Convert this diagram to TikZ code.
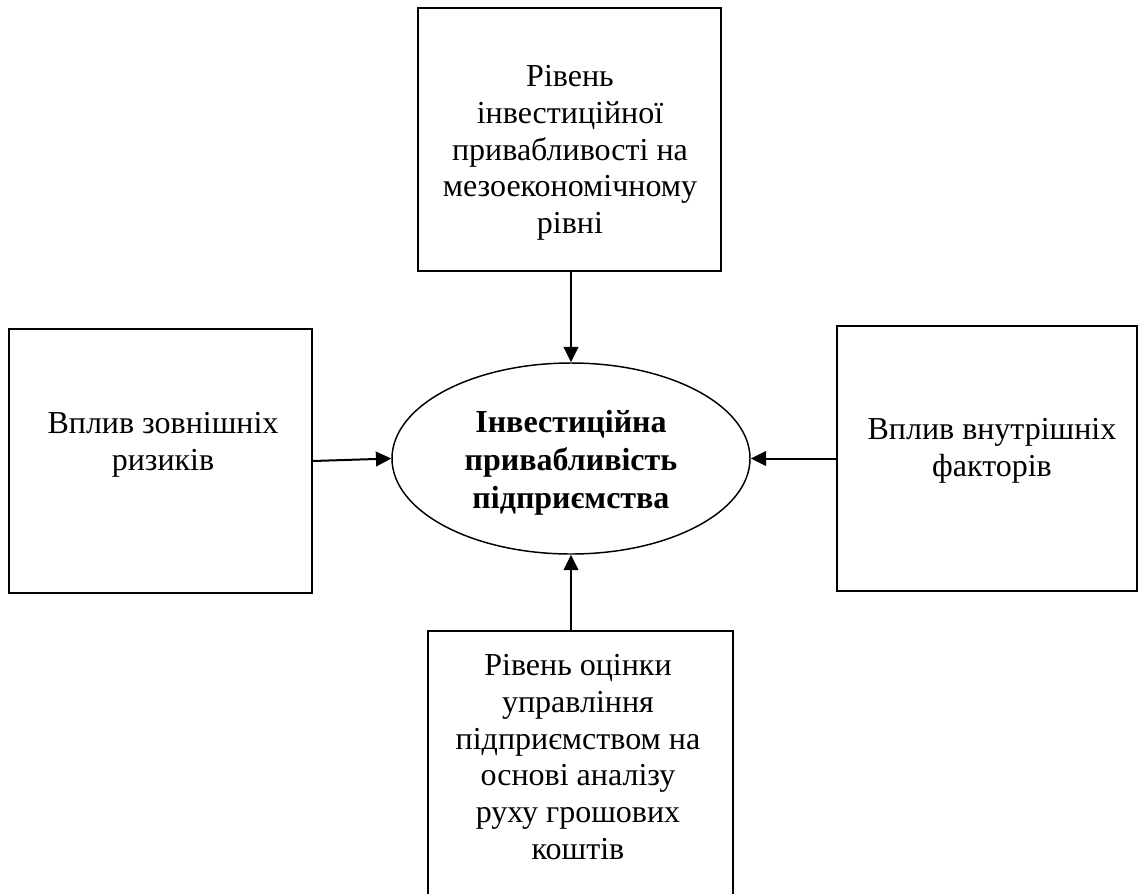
\documentclass[tikz,border=0pt]{standalone}
\usepackage{fontspec}
\setmainfont{Liberation Serif}
\usetikzlibrary{arrows.meta,shapes.geometric}

\tikzset{every picture/.style={line width=1.5pt}}
\tikzset{
  blok/.style={draw, rectangle, inner sep=0pt},
  mitka/.style={inner sep=0pt, align=center, font=\fontsize{24}{27.5}\selectfont},
  strilka/.style={-{Triangle[length=11.5pt,width=11pt]}, line width=1.5pt}
}

\begin{document}
\begin{tikzpicture}[x=0.75pt,y=0.75pt,yscale=-1,xscale=1]
\useasboundingbox (0,0) rectangle (1139,893);

%Shape: Rectangle [top]
\node[blok, minimum width=227.25pt, minimum height=197.25pt] (verh) at (569.5,139.5) {};
%Shape: Rectangle [left]
\node[blok, minimum width=227.25pt, minimum height=198pt] (liv) at (160.5,461) {};
%Shape: Rectangle [right]
\node[blok, minimum width=225pt, minimum height=198.75pt] (prav) at (987,458.5) {};
%Shape: Rectangle [bottom]
\node[blok, minimum width=228.75pt, minimum height=204pt] (niz) at (580.5,767) {};
%Shape: Ellipse
\node[draw, ellipse, line width=1.1pt, minimum width=268.5pt, minimum height=143.25pt] (meta) at (571,458.5) {};

% Text Node
\node[mitka, font=\fontsize{24}{28.5}\selectfont\bfseries] (tmeta) at (571,463) {Інвестиційна\\привабливість\\підприємства};
% Text Node
\node[mitka] (tverh) at (570,153) {Рівень\\інвестиційної\\привабливості на\\мезоекономічному\\рівні};
% Text Node
\node[mitka] (tliv) at (163,445) {Вплив зовнішніх\\ризиків};
% Text Node
\node[mitka] (tprav) at (992,451) {Вплив внутрішніх\\факторів};
% Text Node
\node[mitka] (tniz) at (578,757) {Рівень оцінки\\управління\\підприємством на\\основі аналізу\\руху грошових\\коштів};

% Connection
\draw[strilka] (verh.south) -- (verh.south -| meta.north) -- (meta.north);
% Connection
\draw[strilka] (liv.east) -- (meta.west);
% Connection
\draw[strilka] (prav.west) -- (meta.east);
% Connection
\draw[strilka] (meta.south |- niz.north) -- (meta.south);

\end{tikzpicture}
\end{document}
